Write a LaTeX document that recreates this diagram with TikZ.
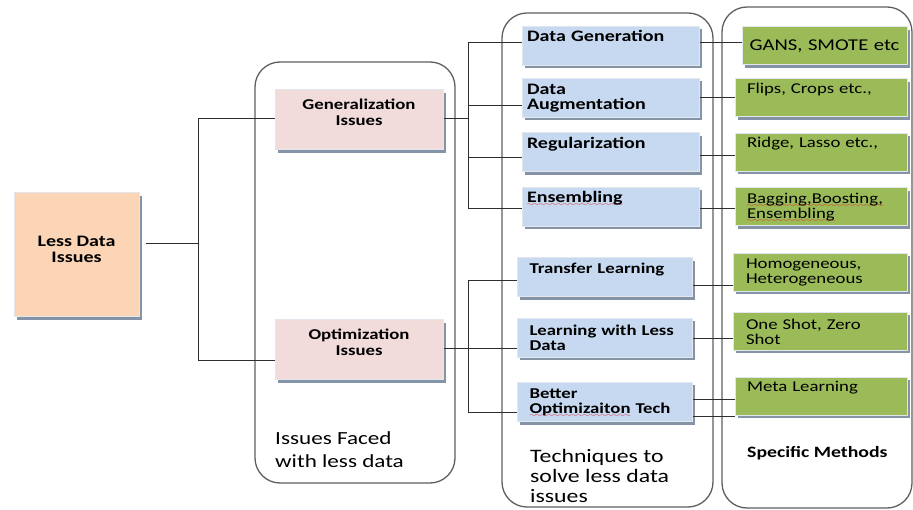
\documentclass[tikz,border=0pt]{standalone}
\usepackage{fontspec}
\setmainfont{Carlito}[FakeStretch=1.25]
\usetikzlibrary{shadows}

\definecolor{panelline}{HTML}{5E5E5E}
\definecolor{wireline}{HTML}{2E2E2E}
\definecolor{rootfill}{HTML}{FBD5B5}
\definecolor{issuefill}{HTML}{F2DCDB}
\definecolor{techfill}{HTML}{C6D9F1}
\definecolor{methodfill}{HTML}{9BBB59}
\definecolor{shadowc}{HTML}{8593A6}
\definecolor{rimc}{HTML}{E2E7EE}
\definecolor{spellc}{HTML}{E02020}

\newcommand\setfs[2]{\fontsize{#1}{#2}\selectfont}
% red wavy underline for misspelled words
\font\wavefont=lasy8
\newsavebox\spellbox
\newcommand\spellwave[1]{\leavevmode\sbox\spellbox{#1}%
  \rlap{\smash{\textcolor{spellc}{\lower4pt\hbox to\wd\spellbox{\xleaders\hbox{\wavefont\char58}\hfill}}}}%
  \usebox\spellbox}

\tikzset{
  panel/.style={draw=panelline, line width=1.3pt, rounded corners=25pt, inner sep=0pt},
  wire/.style={draw=wireline, line width=0.9pt},
  box/.style={rectangle, draw=rimc, line width=1pt, inner ysep=0pt,
    drop shadow={shadow xshift=3pt, shadow yshift=-3pt, opacity=1, fill=shadowc}},
  rootbox/.style={box, fill=rootfill, minimum width=125pt, minimum height=124pt,
    align=center, font=\bfseries\setfs{16}{16}, text depth=12pt},
  issuebox/.style={box, fill=issuefill, minimum width=168pt, minimum height=60pt,
    align=center, font=\bfseries\setfs{15}{16}, text depth=16pt},
  techbox/.style={box, fill=techfill, minimum height=39pt, inner xsep=5pt,
    text width=167pt, align=left, font=\bfseries\setfs{16}{15}},
  techboxlow/.style={box, fill=techfill, minimum height=39pt, inner xsep=12.5pt,
    text width=150pt, align=left, font=\bfseries\setfs{15}{15}},
  methodbox/.style={box, fill=methodfill, minimum height=38pt, inner xsep=12pt,
    text width=148pt, align=left, font=\setfs{15}{15}},
  caption/.style={inner sep=0pt, align=left, anchor=north west},
}

\begin{document}
\begin{tikzpicture}[x=1pt, y=-1pt]
\useasboundingbox (0,0) rectangle (913,510);

% column panels
\node[panel, minimum width=200pt, minimum height=421pt] (p1) at (355,272.5) {};
\node[panel, minimum width=211pt, minimum height=494pt] (p2) at (607.5,260) {};
\node[panel, minimum width=190pt, minimum height=501pt] (p3) at (817,257.5) {};

% panel captions
\node[caption, font=\setfs{18.5}{23}] (c1) at (275,431) {Issues Faced\\with less data};
\node[caption, font=\setfs{19}{20}] (c2) at (530,449) {Techniques to\\solve less data\\issues};
\node[caption, font=\bfseries\setfs{15.8}{18}] (c3) at (747,446) {Specific Methods};

% boxes
\node[rootbox] (ld) at (76.5,255) {Less Data\\Issues};

\node[issuebox] (gen) at (359,120) {Generalization\\Issues};
\node[issuebox] (opt) at (359,350) {Optimization\\Issues};

\node[techbox, minimum width=177pt] (dg)  at (610.5,46)  {Data Generation\\\strut};
\node[techbox, minimum width=177pt] (da)  at (610.5,98)  {Data\\Augmentation};
\node[techbox, minimum width=177pt] (reg) at (610.5,152.5) {Regularization\\\strut};
\node[techbox, minimum width=177pt] (ens) at (610.5,207) {\spellwave{Ensembling}\\\strut};

\node[techboxlow, minimum width=175pt] (tl) at (604.5,277.5) {Transfer Learning\\\strut};
\node[techboxlow, minimum width=175pt] (lw) at (604.5,338)   {Learning with Less\\Data};
\node[techboxlow, minimum width=175pt] (bo) at (604.5,402)   {Better\\\spellwave{Optimizaiton} Tech};

\node[methodbox, minimum width=165pt, inner xsep=4pt, text width=157pt, align=center,
      font=\setfs{16.5}{16}] (gans) at (824.5,46) {GANS, SMOTE etc};
\node[methodbox, minimum width=172pt] (flips) at (821,98)    {Flips, Crops etc.,\\\strut};
\node[methodbox, minimum width=172pt] (ridge) at (821,152.5) {Ridge, Lasso etc.,\\\strut};
\node[methodbox, minimum width=172pt] (bag)   at (821,207)   {\spellwave{Bagging,Boosting,}\\\spellwave{Ensembling}};
\node[methodbox, minimum width=174pt] (homo)  at (820,272.5) {Homogeneous,\\Heterogeneous};
\node[methodbox, minimum width=174pt] (one)   at (820,331.5) {One Shot, Zero\\Shot};
\node[methodbox, minimum width=172pt] (meta)  at (821,396.5) {Meta Learning\\\strut};

% root to issues
\coordinate (j1) at (198,243);
\draw[wire] ([xshift=6pt,yshift=12pt]ld.east) -- (j1);
\draw[wire] (j1) |- ([yshift=2pt]gen.west);
\draw[wire] (j1) |- ([yshift=-10pt]opt.west);

% generalization to techniques
\coordinate (j2) at (468,118);
\draw[wire] ([yshift=2pt]gen.east) -- (j2);
\draw[wire] (j2) |- ([yshift=4pt]dg.west);
\draw[wire] (j2) |- ([yshift=-7pt]da.west);
\draw[wire] (j2) |- ([yshift=-4.5pt]reg.west);
\draw[wire] (j2) |- ([yshift=-1pt]ens.west);

% optimization to techniques
\coordinate (j3) at (468,348);
\draw[wire] ([yshift=2pt]opt.east) -- ([yshift=-10pt]lw.west);
\draw[wire] (j3) |- ([yshift=-2.5pt]tl.west);
\draw[wire] (j3) |- ([yshift=-10pt]bo.west);

% techniques to methods
\draw[wire] ([yshift=4pt]dg.east) -- ([yshift=4pt]gans.west);
\draw[wire] ([yshift=1pt]da.east) -- ([yshift=1pt]flips.west);
\draw[wire] ([yshift=-2.5pt]reg.east) -- ([yshift=-2.5pt]ridge.west);
\draw[wire] ([yshift=-1pt]ens.east) -- ([yshift=-1pt]bag.west);
\draw[wire] ([yshift=-7.5pt]tl.east) -- ([yshift=-12.5pt]homo.west);
\draw[wire] (lw.east) -- ([yshift=-6.5pt]one.west);
\draw[wire] ([yshift=3pt]bo.east) -- ([yshift=-2.5pt]meta.west);
\draw[wire] ([yshift=-14pt]bo.east) -- ([yshift=-19.5pt]meta.west);
\end{tikzpicture}
\end{document}
